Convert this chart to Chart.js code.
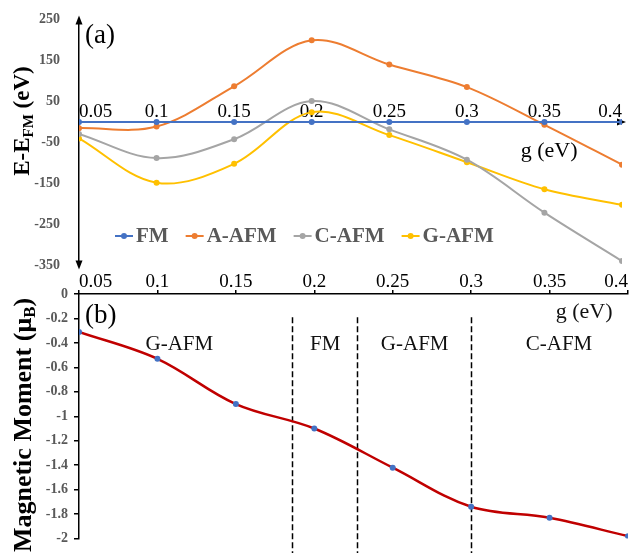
<!DOCTYPE html>
<html>
<head>
<meta charset="utf-8">
<title>Energy and magnetic moment vs g</title>
<script src="https://cdn.jsdelivr.net/npm/chart.js@4.4.1/dist/chart.umd.min.js"></script>
<style>
  body { margin: 0; background: #fff; }
  #page { position: relative; width: 631px; height: 553px; overflow: hidden; background: #fff; }
  .box { position: absolute; left: 0; width: 631px; }
  .ytitle {
    position: absolute; white-space: nowrap; color: #000;
    font: bold 23px "Liberation Serif", "Times New Roman", serif;
    transform: translate(-50%, -50%) rotate(-90deg);
  }
  .ytitle sub { font-size: 65%; vertical-align: -0.25em; line-height: 0; }
</style>
</head>
<body>
<div id="page">
  <div class="box" style="top:0;height:285px"><canvas id="energyChart" width="631" height="285"></canvas></div>
  <div class="box" style="top:270px;height:283px"><canvas id="momentChart" width="631" height="283"></canvas></div>
  <div class="ytitle" style="left:22px;top:121px">E-E<sub>FM</sub> (eV)</div>
  <div class="ytitle" style="left:23px;top:425px;font-size:26px">Magnetic Moment (&mu;<sub>B</sub>)</div>
</div>
<script>
// values
var gValues = [0.05, 0.1, 0.15, 0.2, 0.25, 0.3, 0.35, 0.4];
var fmEnergy = [0, 0, 0, 0, 0, 0, 0, 0];
var aAfmEnergy = [-15, -11, 87, 199, 140, 85, -7, -104];
var cAfmEnergy = [-29, -88, -42, 51, -18, -92, -221, -339];
var gAfmEnergy = [-40, -148, -102, 24, -32, -98, -164, -202];
var energyTicks = [-350, -250, -150, -50, 50, 150, 250];

var moment = [-0.31, -0.53, -0.90, -1.10, -1.42, -1.74, -1.83, -1.98];
var momentTicks = [0, -0.2, -0.4, -0.6, -0.8, -1, -1.2, -1.4, -1.6, -1.8, -2];

// phase boundaries (g) and region names in panel (b)
var phaseBounds = [0.186, 0.227, 0.3];
var phaseNames = ['G-AFM', 'FM', 'G-AFM', 'C-AFM'];
var phaseNameAt = [0.114, 0.207, 0.264, 0.356];

var serif = '"Liberation Serif", "Times New Roman", serif';
Chart.defaults.font.family = serif;
Chart.defaults.color = '#000';

function pts(ys) {
  return gValues.map(function(g, i) { return { x: g, y: ys[i] }; });
}
function fmtG(v) { return String(+Number(v).toFixed(2)); }
function noSidePad(s) { s.paddingLeft = 0; s.paddingRight = 0; }
function series(label, ys, color) {
  return {
    label: label, data: pts(ys), borderColor: color, backgroundColor: color,
    pointBackgroundColor: color, borderWidth: 2, pointRadius: 3, pointBorderWidth: 0,
    pointHoverRadius: 3, tension: 0.35
  };
}

function arrow(ctx, x, y, dir) {
  ctx.beginPath();
  if (dir === 'up') { ctx.moveTo(x, y - 4); ctx.lineTo(x - 3.5, y + 5); ctx.lineTo(x + 3.5, y + 5); }
  if (dir === 'down') { ctx.moveTo(x, y + 4); ctx.lineTo(x - 3.5, y - 5); ctx.lineTo(x + 3.5, y - 5); }
  if (dir === 'right') { ctx.moveTo(x + 4, y); ctx.lineTo(x - 5, y - 3.5); ctx.lineTo(x - 5, y + 3.5); }
  ctx.closePath();
  ctx.fill();
}

// arrows on the axes, "(a)", "g (eV)" and the legend of panel (a)
var energyDecor = {
  id: 'energyDecor',
  beforeDatasetsDraw: function(chart) {
    var ctx = chart.ctx, a = chart.chartArea;
    var y0 = chart.scales.y.getPixelForValue(0);
    ctx.save();
    ctx.fillStyle = '#000';
    arrow(ctx, a.left, a.top, 'up');
    arrow(ctx, a.left, a.bottom, 'down');
    arrow(ctx, a.right, y0, 'right');
    ctx.restore();
  },
  afterDraw: function(chart) {
    var ctx = chart.ctx, a = chart.chartArea;
    ctx.save();
    ctx.fillStyle = '#000';
    ctx.textBaseline = 'middle';
    ctx.font = '27px ' + serif;
    ctx.fillText('(a)', a.left + 6, 36);
    ctx.font = '22px ' + serif;
    ctx.textAlign = 'center';
    ctx.fillText('g (eV)', chart.scales.x.getPixelForValue(0.353), 151);

    // legend
    ctx.textAlign = 'left';
    ctx.font = 'bold 21px ' + serif;
    var x = 115, y = 236;
    chart.data.datasets.forEach(function(ds) {
      ctx.strokeStyle = ds.borderColor;
      ctx.fillStyle = ds.borderColor;
      ctx.lineWidth = 2;
      ctx.beginPath(); ctx.moveTo(x, y); ctx.lineTo(x + 18, y); ctx.stroke();
      ctx.beginPath(); ctx.arc(x + 9, y, 3, 0, Math.PI * 2); ctx.fill();
      ctx.fillStyle = '#595959';
      ctx.fillText(ds.label, x + 21, y + 1);
      x += 21 + ctx.measureText(ds.label).width + 17;
    });
    ctx.restore();
  }
};

new Chart(document.getElementById('energyChart'), {
  type: 'line',
  data: {
    datasets: [
      series('FM', fmEnergy, '#4472C4'),
      series('A-AFM', aAfmEnergy, '#ED7D31'),
      series('C-AFM', cAfmEnergy, '#A5A5A5'),
      series('G-AFM', gAfmEnergy, '#FFC000')
    ]
  },
  options: {
    responsive: false,
    animation: false,
    devicePixelRatio: 1,
    layout: { padding: { left: 0, right: 9, top: 15, bottom: 17 } },
    plugins: { legend: { display: false }, tooltip: { enabled: false } },
    scales: {
      x: {
        type: 'linear', min: 0.05, max: 0.4,
        position: { y: 0 },
        afterBuildTicks: function(s) { s.ticks = gValues.map(function(v) { return { value: v }; }); },
        afterFit: noSidePad,
        grid: { display: false },
        border: { display: true, color: '#000', width: 1.5 },
        ticks: { callback: fmtG, padding: -29, maxRotation: 0, autoSkip: false, align: 'inner',
                 font: { size: 19, family: serif }, color: '#000' }
      },
      y: {
        min: -350, max: 250,
        afterBuildTicks: function(s) { s.ticks = energyTicks.map(function(v) { return { value: v }; }); },
        afterFit: function(s) { s.width = 79; },
        grid: { display: false },
        border: { display: true, color: '#000', width: 1.5 },
        ticks: { padding: 11, font: { size: 14, weight: 'bold', family: serif }, color: '#595959' }
      }
    }
  },
  plugins: [energyDecor]
});

// dashed phase boundaries, region names, "(b)" and "g (eV)" in panel (b)
var momentDecor = {
  id: 'momentDecor',
  beforeDatasetsDraw: function(chart) {
    var ctx = chart.ctx, xs = chart.scales.x, ys = chart.scales.y;
    ctx.save();
    ctx.strokeStyle = '#000';
    ctx.lineWidth = 1.5;
    ctx.setLineDash([6, 3]);
    phaseBounds.forEach(function(g) {
      var px = Math.round(xs.getPixelForValue(g)) + 0.5;
      ctx.beginPath();
      ctx.moveTo(px, ys.getPixelForValue(-0.19));
      ctx.lineTo(px, chart.height);
      ctx.stroke();
    });
    ctx.restore();
  },
  afterDraw: function(chart) {
    var ctx = chart.ctx, a = chart.chartArea, xs = chart.scales.x, ys = chart.scales.y;
    ctx.save();
    ctx.fillStyle = '#111';
    ctx.textBaseline = 'middle';
    ctx.textAlign = 'center';
    ctx.font = '21px ' + serif;
    phaseNames.forEach(function(name, i) {
      ctx.fillText(name, xs.getPixelForValue(phaseNameAt[i]), ys.getPixelForValue(-0.41));
    });
    ctx.font = '22px ' + serif;
    ctx.fillText('g (eV)', xs.getPixelForValue(0.372), ys.getPixelForValue(-0.15));
    ctx.textAlign = 'left';
    ctx.font = '27px ' + serif;
    ctx.fillStyle = '#000';
    ctx.fillText('(b)', a.left + 6, ys.getPixelForValue(-0.18));
    ctx.restore();
  }
};

new Chart(document.getElementById('momentChart'), {
  type: 'line',
  data: {
    datasets: [{
      label: 'Magnetic Moment',
      data: pts(moment),
      borderColor: '#C00000',
      borderWidth: 2.5,
      pointRadius: 3,
      pointHoverRadius: 3,
      pointBorderWidth: 0,
      pointBackgroundColor: '#4472C4',
      tension: 0.35
    }]
  },
  options: {
    responsive: false,
    animation: false,
    devicePixelRatio: 1,
    layout: { padding: { left: 0, right: 1, top: 0, bottom: 9 } },
    plugins: { legend: { display: false }, tooltip: { enabled: false } },
    scales: {
      x: {
        type: 'linear', min: 0.05, max: 0.4, position: 'top',
        afterBuildTicks: function(s) { s.ticks = gValues.map(function(v) { return { value: v }; }); },
        afterFit: function(s) { s.height = 24; noSidePad(s); },
        grid: { drawOnChartArea: false, tickLength: 4, color: '#000', lineWidth: 1.5 },
        border: { display: true, color: '#000', width: 1.5 },
        ticks: { callback: fmtG, padding: -3, maxRotation: 0, autoSkip: false, align: 'inner',
                 font: { size: 19, family: serif }, color: '#000' }
      },
      y: {
        min: -2, max: 0,
        afterBuildTicks: function(s) { s.ticks = momentTicks.map(function(v) { return { value: v }; }); },
        afterFit: function(s) { s.width = 79; },
        grid: { drawOnChartArea: false, tickLength: 5, color: '#000', lineWidth: 1.5 },
        border: { display: true, color: '#000', width: 1.5 },
        ticks: { padding: 6, font: { size: 14, weight: 'bold', family: serif }, color: '#595959',
                 callback: function(v) { return String(+Number(v).toFixed(1)); } }
      }
    }
  },
  plugins: [momentDecor]
});
</script>
</body>
</html>
